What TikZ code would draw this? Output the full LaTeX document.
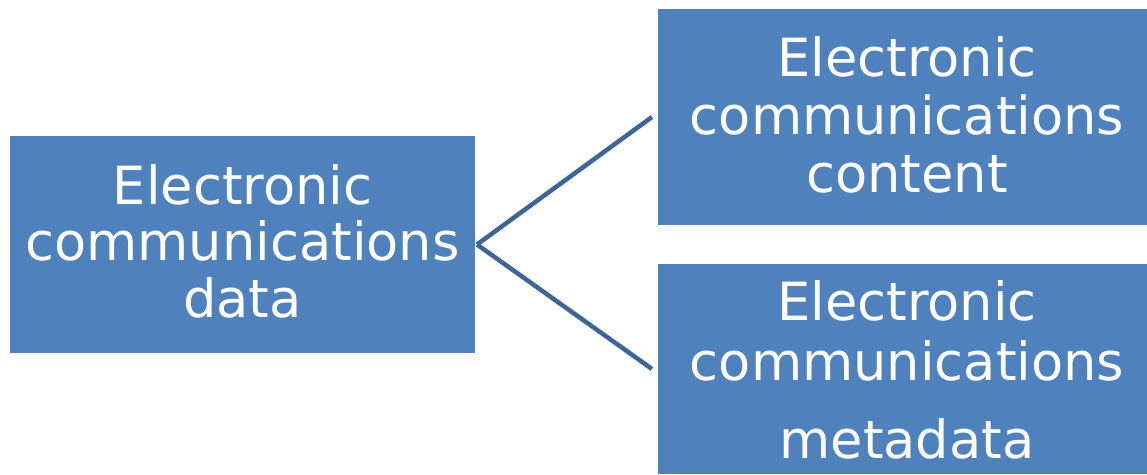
\documentclass[tikz,border=0pt]{standalone}
\usepackage{fontspec}
\setmainfont{DejaVu Sans}
\definecolor{boxblue}{HTML}{4F81BD}
\definecolor{lineblue}{HTML}{3E6597}
\begin{document}
\begin{tikzpicture}[x=1pt,y=1pt,
  box/.style={fill=boxblue, draw=none, inner sep=0pt, outer sep=0pt, anchor=south west},
  lbl/.style={text=white, align=center, inner sep=0pt, anchor=north},
  conn/.style={draw=lineblue, line width=4.5pt}]
\useasboundingbox[fill=white] (0,0) rectangle (1147,474);
% boxes
\node[box, minimum width=465, minimum height=217] (L) at (10,121) {};
\node[box, minimum width=489, minimum height=216] (T) at (658,249) {};
\node[box, minimum width=489, minimum height=210] (B) at (658,0) {};
% texts
\node[lbl, font={\fontsize{52.6}{56.5}\selectfont}] (Lt) at (242.5,310)
  {Electronic\\communications\\data};
\node[lbl, font={\fontsize{52.6}{58}\selectfont}] (Tt) at (907,437.5)
  {Electronic\\communications\\content};
\node[lbl, font={\fontsize{52.6}{60}\selectfont}] (Bt) at (907,194)
  {Electronic\\communications\\[18pt]metadata};
% connectors
\draw[conn] ([xshift=2pt]L.east) -- ([xshift=-6pt]T.west);
\draw[conn] ([xshift=2pt]L.east) -- ([xshift=-6pt]B.west);
\end{tikzpicture}
\end{document}
